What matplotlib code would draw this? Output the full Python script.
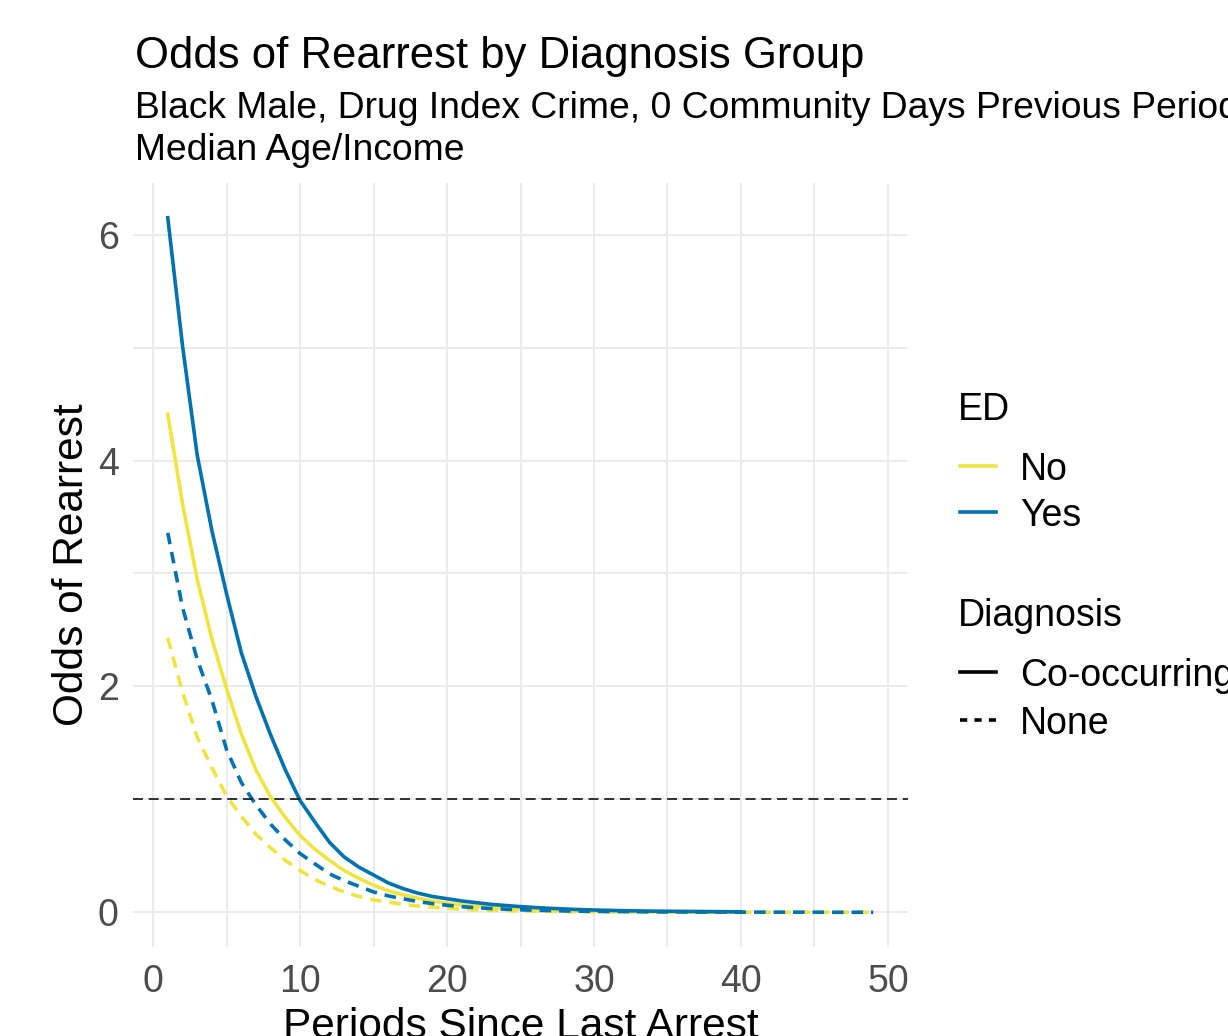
import numpy as np
import matplotlib.pyplot as plt
from matplotlib.lines import Line2D

plt.rcParams['font.family'] = ['Liberation Sans', 'DejaVu Sans']

# periods since last arrest
periods_long = list(range(1, 50))
periods_short = list(range(1, 41))

# ED = Yes, Co-occurring
yes_co = [6.15, 5.02, 4.05, 3.38, 2.82, 2.30, 1.91, 1.57, 1.26, 0.99,
          0.80, 0.62, 0.49, 0.40, 0.33, 0.26, 0.21, 0.17, 0.14, 0.12,
          0.10, 0.085, 0.07, 0.06, 0.05, 0.042, 0.035, 0.029, 0.024, 0.02,
          0.017, 0.014, 0.012, 0.01, 0.009, 0.008, 0.007, 0.006, 0.005, 0.004]
# ED = No, Co-occurring
no_co = [4.41, 3.62, 2.95, 2.42, 1.98, 1.58, 1.26, 1.02, 0.84, 0.68,
         0.56, 0.46, 0.37, 0.30, 0.24, 0.19, 0.155, 0.125, 0.10, 0.08,
         0.065, 0.053, 0.043, 0.035, 0.028, 0.023, 0.019, 0.015, 0.012, 0.01,
         0.008, 0.007, 0.006, 0.005, 0.004, 0.003, 0.003, 0.002, 0.002, 0.001]
# ED = Yes, None
yes_none = [3.36, 2.70, 2.24, 1.88, 1.44, 1.15, 0.95, 0.78, 0.64, 0.52,
            0.43, 0.34, 0.28, 0.23, 0.18, 0.145, 0.12, 0.095, 0.077, 0.062,
            0.05, 0.04, 0.033, 0.027, 0.022, 0.018, 0.015, 0.012, 0.01, 0.008,
            0.007, 0.006, 0.005, 0.004, 0.003, 0.003, 0.002, 0.002, 0.002, 0.001,
            0.001, 0.001, 0.001, 0.001, 0.001, 0.0, 0.0, 0.0, 0.0]
# ED = No, None
no_none = [2.43, 1.95, 1.55, 1.28, 1.03, 0.85, 0.69, 0.57, 0.46, 0.37,
           0.29, 0.23, 0.18, 0.14, 0.11, 0.09, 0.07, 0.055, 0.045, 0.035,
           0.028, 0.023, 0.018, 0.015, 0.012, 0.01, 0.008, 0.006, 0.005, 0.004,
           0.003, 0.003, 0.002, 0.002, 0.002, 0.001, 0.001, 0.001, 0.001, 0.001,
           0.0, 0.0, 0.0, 0.0, 0.0, 0.0, 0.0, 0.0, 0.0]

yellow = "#F0E442"
blue = "#0072B2"
grid_col = "#EBEBEB"
tick_col = "#4D4D4D"

W, H = 1228, 1036
fig = plt.figure(figsize=(W / 100, H / 100), dpi=100)
# panel in pixel coords: left 132.5, right 908.5, top 183, bottom 947
ax = fig.add_axes([132.5 / W, 1 - 947 / H, (908.5 - 132.5) / W, (947 - 183) / H])

dash = (0, (3.2, 2.2))
lw = 2.6
ax.plot(periods_short, no_co, color=yellow, lw=lw)
ax.plot(periods_long, no_none, color=yellow, lw=lw, linestyle=dash)
ax.plot(periods_short, yes_co, color=blue, lw=lw)
ax.plot(periods_long, yes_none, color=blue, lw=lw, linestyle=dash)
ax.axhline(1, color="#222222", lw=1.3, linestyle=(0, (5.5, 3.2)))

ax.set_xlim(-1.4, 51.4)
ax.set_ylim(-0.3075, 6.4575)
ax.set_xticks([0, 10, 20, 30, 40, 50])
ax.set_yticks([0, 2, 4, 6])
ax.set_xticks([5, 15, 25, 35, 45], minor=True)
ax.set_yticks([1, 3, 5], minor=True)
ax.grid(True, which='both', color=grid_col, lw=1.4)
ax.set_axisbelow(True)
for s in ax.spines.values():
    s.set_visible(False)
ax.tick_params(which='both', length=0)
ax.tick_params(axis='x', labelsize=27, labelcolor=tick_col, pad=12)
ax.tick_params(axis='y', labelsize=27, labelcolor=tick_col, pad=10)

# titles
fig.text(135 / W, 1 - 68 / H, "Odds of Rearrest by Diagnosis Group", fontsize=31.4, va='baseline')
fig.text(135 / W, 1 - 118 / H, "Black Male, Drug Index Crime, 0 Community Days Previous Period,",
         fontsize=26.8, va='baseline')
fig.text(135 / W, 1 - 160 / H, "Median Age/Income", fontsize=26.8, va='baseline')

fig.text(72 / W, 1 - 565 / H, "Odds of Rearrest", fontsize=30.5, rotation=90, ha='center', va='center')
fig.text(520.5 / W, 1 - 1038 / H, "Periods Since Last Arrest", fontsize=30.5, ha='center', va='baseline')

# legends
def key(y, color, ls):
    fig.add_artist(Line2D([960 / W, 996 / W], [1 - y / H, 1 - y / H], color=color, lw=lw,
                          linestyle=ls, transform=fig.transFigure))

fig.text(958 / W, 1 - 420 / H, "ED", fontsize=27, va='baseline')
key(466, yellow, '-')
fig.text(1020 / W, 1 - 466 / H, "No", fontsize=27, va='center_baseline')
key(512, blue, '-')
fig.text(1020 / W, 1 - 512 / H, "Yes", fontsize=27, va='center_baseline')

fig.text(958 / W, 1 - 626 / H, "Diagnosis", fontsize=27, va='baseline')
key(672, "black", '-')
fig.text(1020 / W, 1 - 672 / H, "Co-occurring", fontsize=27, va='center_baseline')
key(720, "black", (0, (2.0, 2.0)))
fig.text(1020 / W, 1 - 720 / H, "None", fontsize=27, va='center_baseline')

fig.savefig("out.png", dpi=100)
